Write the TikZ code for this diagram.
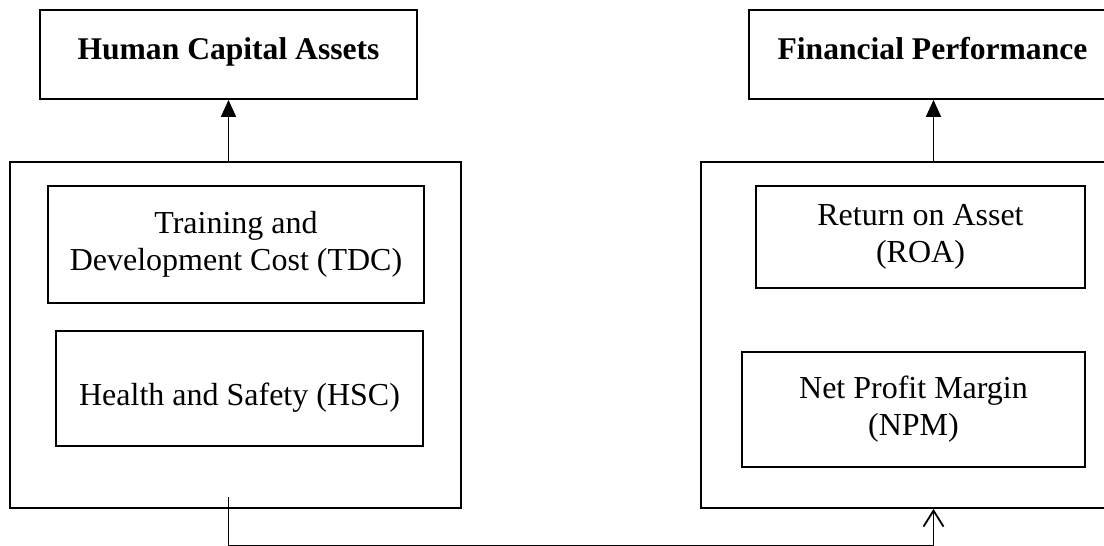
\documentclass[tikz,border=0pt]{standalone}
\usepackage{fontspec}
\setmainfont{Liberation Serif}
\usetikzlibrary{arrows.meta}
\begin{document}
\begin{tikzpicture}[x=1pt,y=-1pt,
  box/.style={draw,line width=1.8pt,inner sep=0pt,rectangle},
  txt/.style={font=\fontsize{32}{37}\selectfont,align=center,inner sep=0pt},
  ttl/.style={font=\fontsize{31.6}{37}\selectfont\bfseries,inner sep=0pt,anchor=base},
  tri/.style={line width=1.8pt,-{Triangle[length=17pt,width=15pt]}},
  openarr/.style={line width=1.8pt,-{Straight Barb[length=16pt,width=20pt]}}]
\useasboundingbox (0,0) rectangle (1104,546);
\clip (0,0) rectangle (1104,546);
% top boxes
\node[box,minimum width=377pt,minimum height=89pt] (hca) at (228.5,54.5) {};
\node[ttl] (hcat) at (228.5,59) {Human Capital Assets};
\node[box,minimum width=369pt,minimum height=89pt] (fp) at (933.5,54.5) {};
\node[ttl] (fpt) at (932.5,59) {Financial Performance};
% outer boxes
\node[box,minimum width=451pt,minimum height=346pt] (lout) at (235.5,335) {};
\node[box,minimum width=451pt,minimum height=346pt] (rout) at (926.5,335) {};
% inner boxes
\node[box,txt,minimum width=376pt,minimum height=117pt] (tdc) at (236,244.5) {Training and\\Development Cost (TDC)};
\node[box,txt,minimum width=367pt,minimum height=115pt,text height=40pt,text depth=7pt] (hsc) at (239.5,388.5) {Health and Safety (HSC)};
\node[box,txt,minimum width=329pt,minimum height=102pt] (roa) at (920.5,237) {Return on Asset\\(ROA)};
\node[box,txt,minimum width=343pt,minimum height=115pt] (npm) at (913.5,409.5) {Net Profit Margin\\(NPM)};
% connectors
\draw[tri] (lout.north -| hca.south) -- (hca.south);
\draw[tri] (rout.north -| fp.south) -- (fp.south);
\coordinate (cstart) at ([yshift=12pt]lout.south -| hca.south);
\coordinate (cend) at (rout.south -| fp.south);
\draw[openarr] (cstart) -- ++(0,49) -| (cend);
\end{tikzpicture}
\end{document}
